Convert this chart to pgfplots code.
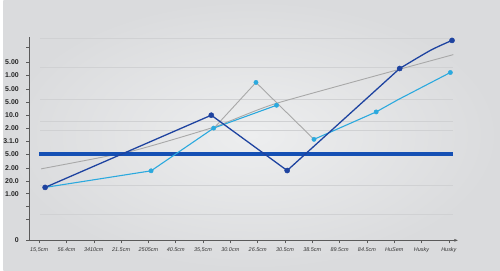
\documentclass[border=0pt]{standalone}
\usepackage{pgfplots}
\pgfplotsset{compat=1.18}
\usetikzlibrary{arrows.meta}
\usepackage{fontspec}
\setmainfont{Liberation Sans}
\definecolor{bgc}{HTML}{EDEEEF}
\definecolor{bgo}{HTML}{DADBDD}
\definecolor{navy}{HTML}{1E43A0}
\definecolor{thickc}{HTML}{1550B4}
\definecolor{cyanl}{HTML}{2BA9DE}
\definecolor{grayl}{HTML}{A8A8A8}
\definecolor{gridc}{HTML}{D0D1D3}
\definecolor{axc}{HTML}{5A5A5A}
\begin{document}
\begin{tikzpicture}[x=1pt,y=1pt]
\shade[inner color=bgc, outer color=bgo] (0,0) rectangle (500,272);
\begin{axis}[
  at={(26pt,30pt)}, anchor=origin,
  width=432pt, height=205pt, scale only axis,
  xmin=26, xmax=458, ymin=0, ymax=205,
  axis x line=bottom, axis y line=left,
  axis line style={axc, line width=0.7pt},
  x axis line style={-{Latex[length=4pt,width=3pt]}},
  y axis line style={-},
  xtick={36,63.5,91,118.5,146,173.5,201,228.5,256,283.5,311,338.5,366,393.5,421,448.5},
  xticklabels={{15,5cm},56.4cm,3410cm,21.5cm,2505cm,40.5cm,{35,5cm},30.0cm,26.5cm,30.5cm,38.5cm,89.5cm,84.5cm,HuSem,Husky,Husky},
  ytick={0,21,34,47,60,73,87,100,113,126,139,152,166,179,194},
  yticklabels={0,,,1.00,20.0,2.00,5.00,3.1.0,2.00,10.0,5.00,5.00,1.00,5.00,},
  tick style={axc, line width=0.5pt},
  major tick length=3pt,
  xtick align=outside, ytick align=outside,
  x tick label style={font=\fontsize{5.5}{6}\selectfont\itshape, text=black!80, yshift=-1pt},
  y tick label style={font=\fontsize{7}{8}\selectfont\bfseries, text=black!85, xshift=-4pt},
  clip=false,
]
% grid lines
\foreach \g in {203,174.5,142,120,111,55,26}{
  \edef\tmp{\noexpand\addplot[gridc, line width=0.8pt, forget plot] coordinates {(37,\g) (453,\g)};}
  \tmp
}
% gray trend line
\addplot[grayl, line width=0.9pt, smooth, tension=0.3] coordinates {(38,72) (130,90) (212,114) (275,138) (453,187)};
% gray zigzag
\addplot[grayl, line width=0.9pt] coordinates {(212,113) (254.3,159) (312.7,101.7)};
% thick blue line
\addplot[thickc, line width=4.3pt] coordinates {(36,86.7) (453,86.7)};
% cyan series
\addplot[cyanl, line width=1.1pt] coordinates {(42,53.3) (148.7,70) (211.7,113) (275,136)};
\addplot[cyanl, line width=1.1pt] coordinates {(312.7,101.7) (375.3,129.3) (396.7,141.3) (450,169)};
\addplot[cyanl, only marks, mark=*, mark size=2.2pt] coordinates {(148.7,70) (211.7,113) (275,136) (254.3,159) (312.7,101.7) (375.3,129.3) (450,169)};
% navy series
\addplot[navy, line width=1.3pt] coordinates {(42,53.3) (209.3,126) (285.7,70.3) (399,173)};
\addplot[navy, line width=1.3pt, smooth, tension=0.5] coordinates {(399,173) (430,191.3) (451.7,201.3)};
\addplot[navy, only marks, mark=*, mark size=2.6pt] coordinates {(42,53.3) (209.3,126) (285.7,70.3) (399,173) (451.7,201.3)};
\end{axis}
\end{tikzpicture}
\end{document}
